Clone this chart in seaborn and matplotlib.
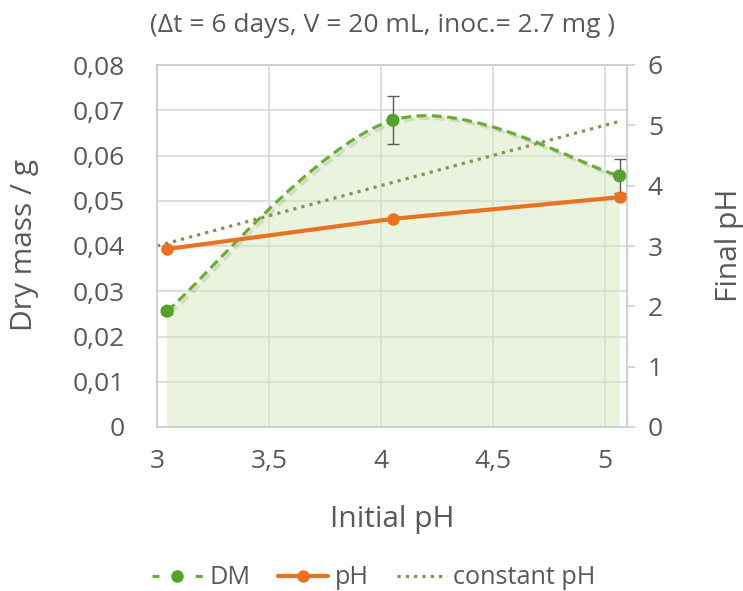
import numpy as np
import matplotlib
matplotlib.use("Agg")
import matplotlib.pyplot as plt
import matplotlib.patheffects as pe
from matplotlib.path import Path
from matplotlib.patches import PathPatch
from matplotlib.lines import Line2D
from matplotlib.ticker import FuncFormatter, MultipleLocator
import seaborn as sns

# data
dm_x = [3.045, 4.054, 5.067]
dm_y = [0.0256, 0.0678, 0.0555]
dm_err = [0.0007, 0.0053, 0.0037]

ph_x = [3.045, 4.054, 5.067]
ph_y = [2.95, 3.45, 3.81]

const_x = [3.0, 5.07]
const_y = [3.0, 5.07]

title = "(\u0394t = 6 days, V = 20 mL, inoc.= 2.7 mg )"
legend_labels = ["DM", "pH", "constant pH"]

GREEN_LINE = "#6aad36"
GREEN_DOT = "#56a12b"
ORANGE = "#e8721f"
OLIVE = "#948a54"
FILL = "#d6e8bc"
TEXT = "#595959"
GRID = "#d9d9d9"

DASH = (0, (3.1, 1.7))
DOT = (0, (1, 1.6))

sns.set_theme(style="whitegrid")
plt.rcParams["font.family"] = ["Open Sans", "DejaVu Sans"]
plt.rcParams["text.color"] = TEXT


def comma(v, pos=None):
    if abs(v) < 1e-9:
        return "0"
    s = f"{v:.2f}" if v < 1 else f"{v:g}"
    return s.replace(".", ",")


def smooth_path(xs, ys):
    # Excel-like smoothed line: cubic bezier through the points
    pts = np.column_stack([xs, ys])
    n = len(pts)
    verts = [pts[0]]
    codes = [Path.MOVETO]
    for i in range(n - 1):
        p0 = pts[i - 1] if i > 0 else pts[i]
        p1 = pts[i]
        p2 = pts[i + 1]
        p3 = pts[i + 2] if i + 2 < n else pts[i + 1]
        c1 = p1 + (p2 - p0) / 6
        c2 = p2 - (p3 - p1) / 6
        verts += [c1, c2, p2]
        codes += [Path.CURVE4] * 3
    return np.array(verts), codes


fig = plt.figure(figsize=(7.43, 5.91), dpi=100)
ax1 = fig.add_axes([157 / 743, 1 - 427 / 591, 470 / 743, 362 / 591])
ax2 = ax1.twinx()

# filled area under the DM curve
verts, codes = smooth_path(dm_x, dm_y)
area_verts = np.vstack([verts, [[dm_x[-1], 0], [dm_x[0], 0], verts[0]]])
area_codes = codes + [Path.LINETO, Path.LINETO, Path.CLOSEPOLY]
ax1.add_patch(PathPatch(Path(area_verts, area_codes), facecolor=FILL,
                        edgecolor="none", alpha=0.5, zorder=1))

# DM dashed smoothed line
ax1.add_patch(PathPatch(Path(verts, codes), fill=False, edgecolor=GREEN_LINE,
                        lw=2.3, linestyle=DASH, zorder=3,
                        path_effects=[pe.SimpleLineShadow(offset=(2, -2), shadow_color="black",
                                                          alpha=0.1),
                                      pe.Normal()]))
ax1.errorbar(dm_x, dm_y, yerr=dm_err, fmt="none", ecolor=TEXT, elinewidth=1,
             capsize=4, capthick=1, zorder=4)
sns.scatterplot(x=dm_x, y=dm_y, ax=ax1, color=GREEN_DOT, s=90,
                edgecolor="none", zorder=5)

# pH and constant pH on the right axis
sns.lineplot(x=const_x, y=const_y, ax=ax2, color=OLIVE, lw=2.3,
             linestyle=DOT, zorder=2)
sns.lineplot(x=ph_x, y=ph_y, ax=ax2, color=ORANGE, lw=3, marker="o",
             markersize=9, markeredgewidth=0, zorder=3)

ax1.set_xlim(3.0, 5.1)
ax1.set_ylim(0, 0.08)
ax2.set_ylim(0, 6)
ax1.xaxis.set_major_locator(MultipleLocator(0.5))
ax1.yaxis.set_major_locator(MultipleLocator(0.01))
ax2.yaxis.set_major_locator(MultipleLocator(1))
ax1.xaxis.set_major_formatter(FuncFormatter(lambda v, p: f"{v:g}".replace(".", ",")))
ax1.yaxis.set_major_formatter(FuncFormatter(comma))
ax2.yaxis.set_major_formatter(FuncFormatter(lambda v, p: f"{v:g}"))

ax1.grid(True, color=GRID, lw=1.2)
ax2.grid(False)
ax1.set_facecolor("white")
ax2.patch.set_visible(False)
for ax in (ax1, ax2):
    for sp in ax.spines.values():
        sp.set_color("#cfcfcf")
        sp.set_linewidth(1.2)

ax1.tick_params(axis="both", length=0, labelsize=19, labelcolor=TEXT)
ax1.tick_params(axis="y", pad=23)
ax1.tick_params(axis="x", pad=16)
ax2.tick_params(axis="y", length=6, width=1.2, color="#cfcfcf", direction="out",
                labelsize=19, labelcolor=TEXT, pad=9)

fig.text(383 / 743, 1 - 25 / 591, title, ha="center", va="center",
         fontsize=19, color=TEXT)
fig.text(25 / 743, 1 - 245 / 591, "Dry mass / g", rotation=90, ha="center",
         va="center", fontsize=21.5, color=TEXT)
fig.text(730 / 743, 1 - 245 / 591, "Final pH", rotation=90, ha="center",
         va="center", fontsize=21.5, color=TEXT)
fig.text(392 / 743, 1 - 520 / 591, "Initial pH", ha="center", va="center",
         fontsize=21.5, color=TEXT)

handles = [
    Line2D([], [], color=GREEN_LINE, lw=2.3, linestyle=(0, (2.2, 11.3)),
           marker="o", markersize=9, markerfacecolor=GREEN_DOT, markeredgewidth=0),
    Line2D([], [], color=ORANGE, lw=3, marker="o", markersize=9, markeredgewidth=0),
    Line2D([], [], color=OLIVE, lw=2.3, linestyle=DOT),
]
fig.legend(handles, legend_labels, loc="center", bbox_to_anchor=(374 / 743, 1 - 578 / 591),
           ncol=3, frameon=False, fontsize=18.2, handlelength=2.0, handletextpad=0.25,
           columnspacing=1.1, labelcolor=TEXT)

fig.savefig("out.png", dpi=100)
